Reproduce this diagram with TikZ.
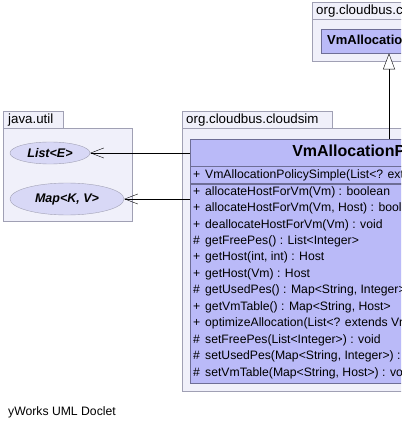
\documentclass[tikz,border=0pt]{standalone}
\usepackage{fontspec}
\setmainfont{Liberation Sans}
\usetikzlibrary{shapes.geometric,arrows.meta}

\definecolor{pkgfill}{HTML}{F0F0FA}
\definecolor{pkgline}{HTML}{A0A0B4}
\definecolor{clsfill}{HTML}{BABAF8}
\definecolor{clsline}{HTML}{6E6E96}
\definecolor{ifcfill}{HTML}{D8D8F6}

\newcommand{\umlrow}[4]{%
  \node[member] (#1) at (193,#2) {\makebox[12pt][l]{#3}#4};}

\begin{document}
\begin{tikzpicture}[x=1pt, y=-1pt, font=\fontsize{12.2}{14}\selectfont,
  pkg/.style={draw=pkgline, fill=pkgfill},
  pkgname/.style={anchor=west, inner sep=0pt, font=\fontsize{13.3}{15}\selectfont},
  cls/.style={draw=clsline, fill=clsfill, anchor=north west, inner sep=0pt},
  member/.style={anchor=west, inner sep=0pt},
  iface/.style={ellipse, draw=pkgline, fill=ifcfill, inner sep=0pt, font=\fontsize{12.5}{14}\selectfont\bfseries\itshape},
  assoc/.style={-{Straight Barb[length=13pt,width=10pt]}},
  gen/.style={-{Triangle[length=16pt,width=12pt,fill=white]}}]
  \path[use as bounding box, fill=white] (0,0) rectangle (401,430);
  \clip (0,0) rectangle (401,430);

  % package org.cloudbus.cloudsim (top)
  \draw[pkg] (312,2) rectangle (462,19);
  \draw[pkg] (312,19) rectangle (520,61);
  \node[pkgname] (toppkg) at (316,11) {org.cloudbus.cloudsim};
  \node[cls, minimum height=24pt, inner xsep=6pt, font=\fontsize{13}{15}\selectfont\bfseries] (policy) at (321,29) {VmAllocationPolicy};

  % package java.util
  \draw[pkg] (3,111) rectangle (63,128);
  \draw[pkg] (3,128) rectangle (132,221);
  \node[pkgname] (utilpkg) at (8,120) {java.util};
  \node[iface, minimum width=80pt, minimum height=22pt] (list) at (50,153) {List<E>};
  \node[iface, minimum width=114pt, minimum height=32pt] (map) at (67,199) {Map<K, V>};

  % package org.cloudbus.cloudsim
  \draw[pkg] (182,111) rectangle (332,128);
  \draw[pkg] (182,128) rectangle (620,391);
  \node[pkgname] (simpkg) at (186,120) {org.cloudbus.cloudsim};
  \node[cls, minimum width=406pt, minimum height=27pt, font=\fontsize{16}{19}\selectfont\bfseries] (simple) at (190,139) {VmAllocationPolicySimple};
  \node[cls, minimum width=406pt, minimum height=17pt] (ctor) at (simple.south west) {};
  \node[cls, minimum width=406pt, minimum height=199pt] (ops) at (ctor.south west) {};

  \umlrow{c1}{175}{+}{VmAllocationPolicySimple(List<? extends Host>)}
  \umlrow{m1}{192}{+}{allocateHostForVm(Vm) : boolean}
  \umlrow{m2}{208.45}{+}{allocateHostForVm(Vm, Host) : boolean}
  \umlrow{m3}{224.9}{+}{deallocateHostForVm(Vm) : void}
  \umlrow{m4}{241.35}{\#}{getFreePes() : List<Integer>}
  \umlrow{m5}{257.8}{+}{getHost(int, int) : Host}
  \umlrow{m6}{274.25}{+}{getHost(Vm) : Host}
  \umlrow{m7}{290.7}{\#}{getUsedPes() : Map<String, Integer>}
  \umlrow{m8}{307.15}{+}{getVmTable() : Map<String, Host>}
  \umlrow{m9}{323.6}{+}{optimizeAllocation(List<? extends Vm>) : List<Map<String, Object>>}
  \umlrow{m10}{340.05}{\#}{setFreePes(List<Integer>) : void}
  \umlrow{m11}{356.5}{\#}{setUsedPes(Map<String, Integer>) : void}
  \umlrow{m12}{372.95}{\#}{setVmTable(Map<String, Host>) : void}

  % connectors
  \draw[assoc] (simple.west |- list.east) -- (list.east);
  \draw[assoc] (ops.west |- map.east) -- (map.east);
  \coordinate (up) at (389,139);
  \draw[gen] (up) -- (up |- policy.south);

  \node[anchor=west, inner sep=0pt] (doclet) at (8,412) {yWorks UML Doclet};
\end{tikzpicture}
\end{document}
